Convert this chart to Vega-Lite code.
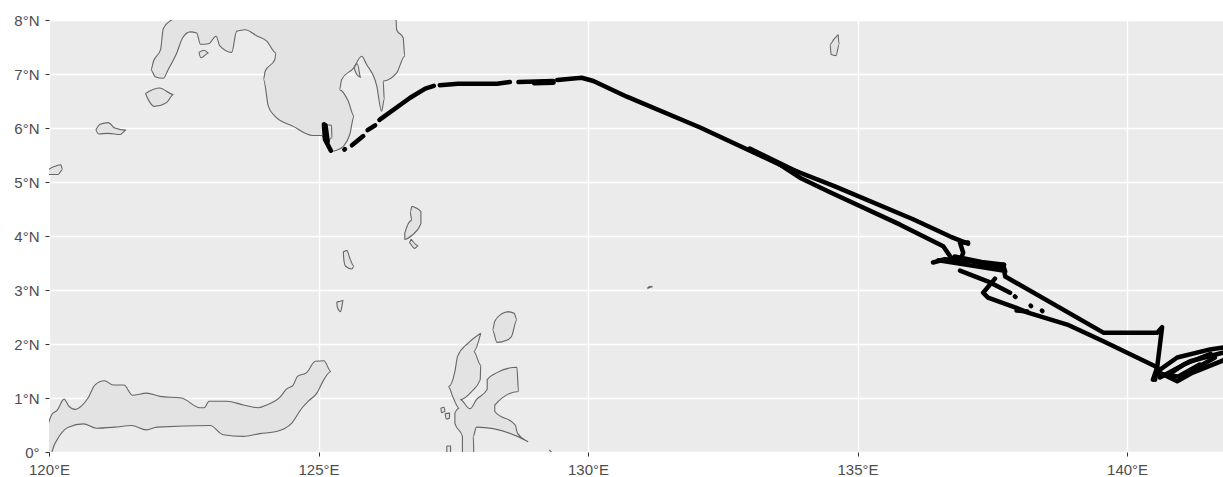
{"$schema":"https://vega.github.io/schema/vega-lite/v6.json","width":1174,"height":432,"autosize":"none","padding":{"left":49,"top":20,"right":0,"bottom":25},"background":"white","view":{"fill":"#EBEBEB","stroke":null},
"datasets":{"coast":[
{"id":"mindanao","lon":122.29,"lat":8.01},{"id":"mindanao","lon":122.12,"lat":7.84},{"id":"mindanao","lon":122.07,"lat":7.45},{"id":"mindanao","lon":121.94,"lat":7.24},{"id":"mindanao","lon":121.89,"lat":7.08},{"id":"mindanao","lon":121.97,"lat":6.95},{"id":"mindanao","lon":122.12,"lat":6.92},{"id":"mindanao","lon":122.21,"lat":7.08},{"id":"mindanao","lon":122.37,"lat":7.39},{"id":"mindanao","lon":122.48,"lat":7.67},{"id":"mindanao","lon":122.62,"lat":7.78},{"id":"mindanao","lon":122.74,"lat":7.76},{"id":"mindanao","lon":122.81,"lat":7.55},{"id":"mindanao","lon":122.96,"lat":7.56},{"id":"mindanao","lon":123.10,"lat":7.70},{"id":"mindanao","lon":123.17,"lat":7.52},{"id":"mindanao","lon":123.39,"lat":7.40},{"id":"mindanao","lon":123.48,"lat":7.79},{"id":"mindanao","lon":123.64,"lat":7.82},{"id":"mindanao","lon":123.85,"lat":7.71},{"id":"mindanao","lon":124.04,"lat":7.61},{"id":"mindanao","lon":124.21,"lat":7.39},{"id":"mindanao","lon":124.19,"lat":7.27},{"id":"mindanao","lon":124.01,"lat":7.05},{"id":"mindanao","lon":123.98,"lat":6.90},{"id":"mindanao","lon":124.07,"lat":6.40},{"id":"mindanao","lon":124.19,"lat":6.22},{"id":"mindanao","lon":124.53,"lat":6.03},{"id":"mindanao","lon":124.89,"lat":5.86},{"id":"mindanao","lon":125.06,"lat":5.86},{"id":"mindanao","lon":125.12,"lat":5.76},{"id":"mindanao","lon":125.24,"lat":5.57},{"id":"mindanao","lon":125.34,"lat":5.59},{"id":"mindanao","lon":125.46,"lat":5.66},{"id":"mindanao","lon":125.58,"lat":5.88},{"id":"mindanao","lon":125.66,"lat":6.22},{"id":"mindanao","lon":125.55,"lat":6.50},{"id":"mindanao","lon":125.39,"lat":6.71},{"id":"mindanao","lon":125.43,"lat":6.90},{"id":"mindanao","lon":125.65,"lat":7.11},{"id":"mindanao","lon":125.80,"lat":7.33},{"id":"mindanao","lon":125.89,"lat":7.18},{"id":"mindanao","lon":126.08,"lat":6.78},{"id":"mindanao","lon":126.17,"lat":6.31},{"id":"mindanao","lon":126.22,"lat":6.53},{"id":"mindanao","lon":126.20,"lat":6.87},{"id":"mindanao","lon":126.45,"lat":7.02},{"id":"mindanao","lon":126.60,"lat":7.33},{"id":"mindanao","lon":126.57,"lat":7.67},{"id":"mindanao","lon":126.45,"lat":7.82},{"id":"mindanao","lon":126.44,"lat":8.01},{"id":"mindanao","lon":126.44,"lat":8.38},{"id":"mindanao","lon":122.43,"lat":8.38},{"id":"mindanao","lon":122.29,"lat":8.01},
{"id":"a","lon":122.78,"lat":7.40},{"id":"a","lon":122.88,"lat":7.44},{"id":"a","lon":122.96,"lat":7.39},{"id":"a","lon":122.82,"lat":7.30},{"id":"a","lon":122.78,"lat":7.40},
{"id":"b","lon":121.79,"lat":6.64},{"id":"b","lon":122.05,"lat":6.74},{"id":"b","lon":122.31,"lat":6.62},{"id":"b","lon":122.18,"lat":6.47},{"id":"b","lon":121.95,"lat":6.40},{"id":"b","lon":121.84,"lat":6.53},{"id":"b","lon":121.79,"lat":6.64},
{"id":"c","lon":120.87,"lat":5.97},{"id":"c","lon":120.95,"lat":6.07},{"id":"c","lon":121.10,"lat":6.10},{"id":"c","lon":121.22,"lat":6.00},{"id":"c","lon":121.43,"lat":5.96},{"id":"c","lon":121.32,"lat":5.88},{"id":"c","lon":121.10,"lat":5.90},{"id":"c","lon":120.92,"lat":5.89},{"id":"c","lon":120.87,"lat":5.97},
{"id":"d","lon":119.98,"lat":5.23},{"id":"d","lon":120.11,"lat":5.29},{"id":"d","lon":120.22,"lat":5.32},{"id":"d","lon":120.25,"lat":5.23},{"id":"d","lon":120.17,"lat":5.14},{"id":"d","lon":119.98,"lat":5.14},{"id":"d","lon":119.98,"lat":5.23},
{"id":"samal","lon":125.66,"lat":7.11},{"id":"samal","lon":125.72,"lat":7.19},{"id":"samal","lon":125.78,"lat":6.93},{"id":"samal","lon":125.71,"lat":6.99},{"id":"samal","lon":125.66,"lat":7.11},
{"id":"bay","lon":125.13,"lat":6.06},{"id":"bay","lon":125.24,"lat":6.05},{"id":"bay","lon":125.25,"lat":5.82},{"id":"bay","lon":125.16,"lat":5.72},
{"id":"kar","lon":126.73,"lat":4.55},{"id":"kar","lon":126.90,"lat":4.45},{"id":"kar","lon":126.90,"lat":4.23},{"id":"kar","lon":126.73,"lat":4.01},{"id":"kar","lon":126.60,"lat":3.94},{"id":"kar","lon":126.60,"lat":4.05},{"id":"kar","lon":126.73,"lat":4.29},{"id":"kar","lon":126.70,"lat":4.45},{"id":"kar","lon":126.73,"lat":4.55},
{"id":"kar2","lon":126.72,"lat":3.94},{"id":"kar2","lon":126.85,"lat":3.82},{"id":"kar2","lon":126.78,"lat":3.77},{"id":"kar2","lon":126.68,"lat":3.88},{"id":"kar2","lon":126.72,"lat":3.94},
{"id":"sang","lon":125.46,"lat":3.71},{"id":"sang","lon":125.53,"lat":3.73},{"id":"sang","lon":125.57,"lat":3.62},{"id":"sang","lon":125.66,"lat":3.44},{"id":"sang","lon":125.62,"lat":3.39},{"id":"sang","lon":125.50,"lat":3.44},{"id":"sang","lon":125.47,"lat":3.56},{"id":"sang","lon":125.46,"lat":3.71},
{"id":"siau","lon":125.34,"lat":2.78},{"id":"siau","lon":125.46,"lat":2.81},{"id":"siau","lon":125.41,"lat":2.60},{"id":"siau","lon":125.35,"lat":2.68},{"id":"siau","lon":125.34,"lat":2.78},
{"id":"sulawesi","lon":119.98,"lat":0.50},{"id":"sulawesi","lon":120.05,"lat":0.69},{"id":"sulawesi","lon":120.15,"lat":0.77},{"id":"sulawesi","lon":120.28,"lat":0.98},{"id":"sulawesi","lon":120.36,"lat":0.86},{"id":"sulawesi","lon":120.48,"lat":0.79},{"id":"sulawesi","lon":120.61,"lat":0.86},{"id":"sulawesi","lon":120.73,"lat":1.01},{"id":"sulawesi","lon":120.85,"lat":1.24},{"id":"sulawesi","lon":121.03,"lat":1.32},{"id":"sulawesi","lon":121.19,"lat":1.24},{"id":"sulawesi","lon":121.39,"lat":1.24},{"id":"sulawesi","lon":121.55,"lat":1.05},{"id":"sulawesi","lon":121.81,"lat":1.09},{"id":"sulawesi","lon":122.06,"lat":1.03},{"id":"sulawesi","lon":122.46,"lat":1.00},{"id":"sulawesi","lon":122.80,"lat":0.82},{"id":"sulawesi","lon":122.88,"lat":0.82},{"id":"sulawesi","lon":122.97,"lat":0.94},{"id":"sulawesi","lon":123.30,"lat":0.94},{"id":"sulawesi","lon":123.61,"lat":0.87},{"id":"sulawesi","lon":123.88,"lat":0.82},{"id":"sulawesi","lon":124.04,"lat":0.87},{"id":"sulawesi","lon":124.29,"lat":1.02},{"id":"sulawesi","lon":124.40,"lat":1.16},{"id":"sulawesi","lon":124.53,"lat":1.24},{"id":"sulawesi","lon":124.61,"lat":1.40},{"id":"sulawesi","lon":124.78,"lat":1.47},{"id":"sulawesi","lon":124.94,"lat":1.68},{"id":"sulawesi","lon":125.10,"lat":1.69},{"id":"sulawesi","lon":125.23,"lat":1.49},{"id":"sulawesi","lon":125.10,"lat":1.34},{"id":"sulawesi","lon":124.97,"lat":1.09},{"id":"sulawesi","lon":124.81,"lat":0.94},{"id":"sulawesi","lon":124.69,"lat":0.81},{"id":"sulawesi","lon":124.50,"lat":0.53},{"id":"sulawesi","lon":124.22,"lat":0.38},{"id":"sulawesi","lon":123.91,"lat":0.34},{"id":"sulawesi","lon":123.61,"lat":0.29},{"id":"sulawesi","lon":123.23,"lat":0.32},{"id":"sulawesi","lon":122.99,"lat":0.49},{"id":"sulawesi","lon":122.00,"lat":0.46},{"id":"sulawesi","lon":121.81,"lat":0.41},{"id":"sulawesi","lon":121.53,"lat":0.49},{"id":"sulawesi","lon":121.22,"lat":0.46},{"id":"sulawesi","lon":120.88,"lat":0.44},{"id":"sulawesi","lon":120.64,"lat":0.52},{"id":"sulawesi","lon":120.36,"lat":0.46},{"id":"sulawesi","lon":120.19,"lat":0.29},{"id":"sulawesi","lon":120.05,"lat":-0.02},{"id":"sulawesi","lon":120.02,"lat":-0.30},{"id":"sulawesi","lon":119.70,"lat":-0.30},{"id":"sulawesi","lon":119.70,"lat":0.50},{"id":"sulawesi","lon":119.98,"lat":0.50},
{"id":"morotai","lon":128.52,"lat":2.60},{"id":"morotai","lon":128.63,"lat":2.57},{"id":"morotai","lon":128.68,"lat":2.45},{"id":"morotai","lon":128.58,"lat":2.14},{"id":"morotai","lon":128.49,"lat":2.07},{"id":"morotai","lon":128.31,"lat":2.03},{"id":"morotai","lon":128.23,"lat":2.26},{"id":"morotai","lon":128.27,"lat":2.42},{"id":"morotai","lon":128.40,"lat":2.56},{"id":"morotai","lon":128.52,"lat":2.60},
{"id":"halmahera","lon":128.01,"lat":2.20},{"id":"halmahera","lon":127.88,"lat":1.86},{"id":"halmahera","lon":128.01,"lat":1.61},{"id":"halmahera","lon":128.00,"lat":1.34},{"id":"halmahera","lon":127.84,"lat":1.12},{"id":"halmahera","lon":127.63,"lat":0.97},{"id":"halmahera","lon":127.81,"lat":0.80},{"id":"halmahera","lon":127.93,"lat":0.97},{"id":"halmahera","lon":128.13,"lat":1.16},{"id":"halmahera","lon":128.13,"lat":1.34},{"id":"halmahera","lon":128.31,"lat":1.47},{"id":"halmahera","lon":128.68,"lat":1.57},{"id":"halmahera","lon":128.71,"lat":1.12},{"id":"halmahera","lon":128.27,"lat":0.87},{"id":"halmahera","lon":128.27,"lat":0.75},{"id":"halmahera","lon":128.65,"lat":0.50},{"id":"halmahera","lon":128.69,"lat":0.35},{"id":"halmahera","lon":128.89,"lat":0.19},{"id":"halmahera","lon":127.93,"lat":0.46},{"id":"halmahera","lon":127.87,"lat":0.29},{"id":"halmahera","lon":127.88,"lat":-0.02},{"id":"halmahera","lon":127.88,"lat":-0.33},{"id":"halmahera","lon":127.67,"lat":-0.33},{"id":"halmahera","lon":127.67,"lat":0.29},{"id":"halmahera","lon":127.53,"lat":0.53},{"id":"halmahera","lon":127.53,"lat":0.72},{"id":"halmahera","lon":127.61,"lat":0.81},{"id":"halmahera","lon":127.50,"lat":1.00},{"id":"halmahera","lon":127.41,"lat":1.21},{"id":"halmahera","lon":127.53,"lat":1.49},{"id":"halmahera","lon":127.58,"lat":1.77},{"id":"halmahera","lon":127.78,"lat":2.02},{"id":"halmahera","lon":128.01,"lat":2.20},
{"id":"t1","lon":127.27,"lat":0.81},{"id":"t1","lon":127.33,"lat":0.83},{"id":"t1","lon":127.35,"lat":0.75},{"id":"t1","lon":127.28,"lat":0.73},{"id":"t1","lon":127.27,"lat":0.81},
{"id":"t2","lon":127.35,"lat":0.71},{"id":"t2","lon":127.43,"lat":0.72},{"id":"t2","lon":127.43,"lat":0.63},{"id":"t2","lon":127.37,"lat":0.61},{"id":"t2","lon":127.35,"lat":0.71},
{"id":"t3","lon":127.38,"lat":0.11},{"id":"t3","lon":127.45,"lat":0.11},{"id":"t3","lon":127.45,"lat":-0.03},{"id":"t3","lon":127.38,"lat":-0.03},{"id":"t3","lon":127.38,"lat":0.11},
{"id":"t4","lon":129.28,"lat":0.04},{"id":"t4","lon":129.34,"lat":-0.02},
{"id":"t5","lon":131.10,"lat":3.03},{"id":"t5","lon":131.20,"lat":3.06},{"id":"t5","lon":131.15,"lat":3.07},{"id":"t5","lon":131.10,"lat":3.03},
{"id":"t6","lon":134.64,"lat":7.73},{"id":"t6","lon":134.66,"lat":7.55},{"id":"t6","lon":134.60,"lat":7.34},{"id":"t6","lon":134.51,"lat":7.36},{"id":"t6","lon":134.49,"lat":7.55},{"id":"t6","lon":134.56,"lat":7.64},{"id":"t6","lon":134.64,"lat":7.73}
],
"track":[
{"seg":"s1","lon":125.10,"lat":6.07},{"seg":"s1","lon":125.12,"lat":5.79},{"seg":"s1","lon":125.23,"lat":5.58},
{"seg":"s1b","lon":125.13,"lat":6.05},{"seg":"s1b","lon":125.17,"lat":5.75},
{"seg":"s2","lon":125.48,"lat":5.60},{"seg":"s2","lon":125.49,"lat":5.61},
{"seg":"s3","lon":125.62,"lat":5.68},{"seg":"s3","lon":125.83,"lat":5.85},
{"seg":"s4","lon":125.91,"lat":5.96},{"seg":"s4","lon":126.05,"lat":6.05},
{"seg":"s5","lon":126.13,"lat":6.15},{"seg":"s5","lon":126.70,"lat":6.56},{"seg":"s5","lon":126.98,"lat":6.73},{"seg":"s5","lon":127.14,"lat":6.78},
{"seg":"s6","lon":127.25,"lat":6.79},{"seg":"s6","lon":127.59,"lat":6.82},{"seg":"s6","lon":128.31,"lat":6.82},{"seg":"s6","lon":128.55,"lat":6.85},
{"seg":"s7","lon":128.71,"lat":6.85},{"seg":"s7","lon":129.36,"lat":6.87},
{"seg":"s7b","lon":129.00,"lat":6.83},{"seg":"s7b","lon":129.36,"lat":6.84},
{"seg":"s8","lon":129.43,"lat":6.89},{"seg":"s8","lon":129.88,"lat":6.93},{"seg":"s8","lon":130.10,"lat":6.87},{"seg":"s8","lon":130.72,"lat":6.58},{"seg":"s8","lon":132.08,"lat":6.01},{"seg":"s8","lon":133.56,"lat":5.32},{"seg":"s8","lon":134.58,"lat":4.92},{"seg":"s8","lon":136.03,"lat":4.31},{"seg":"s8","lon":136.72,"lat":3.99},{"seg":"s8","lon":137.05,"lat":3.86},
{"seg":"s8b","lon":133.00,"lat":5.62},{"seg":"s8b","lon":133.90,"lat":5.18},
{"seg":"s9","lon":137.05,"lat":3.88},{"seg":"s9","lon":136.90,"lat":3.88},{"seg":"s9","lon":136.96,"lat":3.69},{"seg":"s9","lon":136.90,"lat":3.53},
{"seg":"s10","lon":133.56,"lat":5.32},{"seg":"s10","lon":133.93,"lat":5.08},{"seg":"s10","lon":134.49,"lat":4.81},{"seg":"s10","lon":135.79,"lat":4.21},{"seg":"s10","lon":136.59,"lat":3.81},{"seg":"s10","lon":136.72,"lat":3.62},{"seg":"s10","lon":136.81,"lat":3.53},
{"seg":"s11","lon":136.40,"lat":3.51},{"seg":"s11","lon":136.62,"lat":3.57},{"seg":"s11","lon":137.09,"lat":3.53},{"seg":"s11","lon":137.64,"lat":3.44},{"seg":"s11","lon":137.74,"lat":3.34},{"seg":"s11","lon":137.70,"lat":3.47},{"seg":"s11","lon":137.74,"lat":3.25},{"seg":"s11","lon":139.56,"lat":2.21},{"seg":"s11","lon":140.56,"lat":2.21},{"seg":"s11","lon":140.65,"lat":2.31},{"seg":"s11","lon":140.56,"lat":1.58},{"seg":"s11","lon":140.52,"lat":1.34},
{"seg":"s11b","lon":136.50,"lat":3.55},{"seg":"s11b","lon":137.00,"lat":3.47},{"seg":"s11b","lon":137.70,"lat":3.36},
{"seg":"s11c","lon":136.80,"lat":3.62},{"seg":"s11c","lon":137.30,"lat":3.52},{"seg":"s11c","lon":137.72,"lat":3.47},
{"seg":"s12","lon":136.90,"lat":3.36},{"seg":"s12","lon":137.46,"lat":3.14},{"seg":"s12","lon":137.83,"lat":2.95},
{"seg":"s13","lon":137.55,"lat":3.21},{"seg":"s13","lon":137.33,"lat":2.95},{"seg":"s13","lon":137.42,"lat":2.86},{"seg":"s13","lon":137.92,"lat":2.68},{"seg":"s13","lon":138.16,"lat":2.58},{"seg":"s13","lon":138.89,"lat":2.36},{"seg":"s13","lon":139.56,"lat":2.05},{"seg":"s13","lon":140.56,"lat":1.57},{"seg":"s13","lon":140.48,"lat":1.34},
{"seg":"s13b","lon":137.95,"lat":2.62},{"seg":"s13b","lon":138.15,"lat":2.60},
{"seg":"s14","lon":140.56,"lat":1.49},{"seg":"s14","lon":140.93,"lat":1.75},{"seg":"s14","lon":141.54,"lat":1.90},{"seg":"s14","lon":141.82,"lat":1.94},
{"seg":"s15","lon":140.56,"lat":1.49},{"seg":"s15","lon":140.93,"lat":1.31},{"seg":"s15","lon":141.22,"lat":1.47},{"seg":"s15","lon":141.82,"lat":1.71},
{"seg":"s16","lon":140.61,"lat":1.38},{"seg":"s16","lon":141.17,"lat":1.68},{"seg":"s16","lon":141.82,"lat":1.85},
{"seg":"s17","lon":140.98,"lat":1.38},{"seg":"s17","lon":141.63,"lat":1.75},
{"seg":"s17b","lon":140.75,"lat":1.42},{"seg":"s17b","lon":141.05,"lat":1.62},{"seg":"s17b","lon":141.55,"lat":1.82},
{"seg":"s17c","lon":140.52,"lat":1.45},{"seg":"s17c","lon":140.95,"lat":1.40},{"seg":"s17c","lon":141.35,"lat":1.62},
{"seg":"s18","lon":137.92,"lat":2.88},{"seg":"s18","lon":137.93,"lat":2.87},
{"seg":"s19","lon":138.21,"lat":2.71},{"seg":"s19","lon":138.22,"lat":2.70},
{"seg":"s20","lon":138.42,"lat":2.62},{"seg":"s20","lon":138.43,"lat":2.61}
]},
"layer":[
{"data":{"name":"coast"},"mark":{"type":"line","clip":true,"stroke":"#666666","strokeWidth":1.1,"fill":"#E3E3E3","interpolate":"monotone"},
"encoding":{"x":{"field":"lon","type":"quantitative","scale":{"domain":[120,141.78],"nice":false,"zero":false},"axis":{"title":null,"values":[120,125,130,135,140],"labelExpr":"datum.value+'°E'","domain":false,"grid":true,"gridColor":"#FFFFFF","gridWidth":1.4,"tickColor":"#333333","tickSize":4,"labelColor":"#4D4D4D","labelFont":"Liberation Sans","labelFontSize":15,"labelPadding":6,"labelFlush":false,"labelOverlap":false}},
"y":{"field":"lat","type":"quantitative","scale":{"domain":[0,8],"nice":false,"zero":false},"axis":{"title":null,"values":[0,1,2,3,4,5,6,7,8],"labelExpr":"datum.value==0?'0°':datum.value+'°N'","domain":false,"grid":true,"gridColor":"#FFFFFF","gridWidth":1.4,"tickColor":"#333333","tickSize":4,"labelColor":"#4D4D4D","labelFont":"Liberation Sans","labelFontSize":15,"labelPadding":6,"labelOverlap":false}},
"detail":{"field":"id"},"order":{"value":null}}},
{"data":{"name":"track"},"mark":{"type":"line","clip":true,"color":"#000000","strokeWidth":4.5,"strokeCap":"round","strokeJoin":"round"},
"encoding":{"x":{"field":"lon","type":"quantitative"},"y":{"field":"lat","type":"quantitative"},"detail":{"field":"seg"},"order":{"value":null}}}
]}
